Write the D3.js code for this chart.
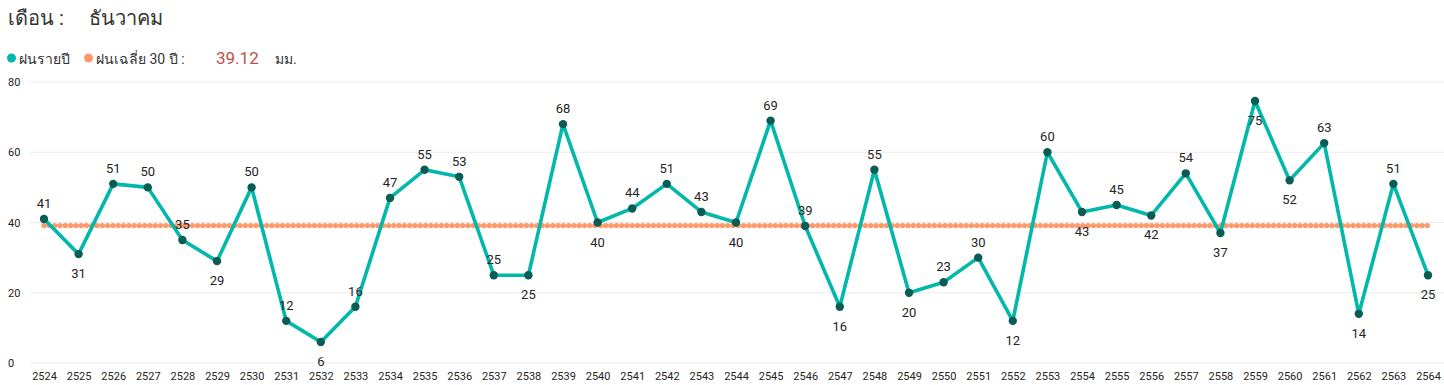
<!DOCTYPE html>
<html>
<head>
<meta charset="utf-8">
<script src="https://cdn.jsdelivr.net/npm/d3@7"></script>
<style>
  body { margin: 0; background: #fff; }
  svg { display: block; }
</style>
</head>
<body>
<script>
// data (labels are rounded)
const years = ["2524","2525","2526","2527","2528","2529","2530","2531","2532","2533",
               "2534","2535","2536","2537","2538","2539","2540","2541","2542","2543",
               "2544","2545","2546","2547","2548","2549","2550","2551","2552","2553",
               "2554","2555","2556","2557","2558","2559","2560","2561","2562","2563","2564"];
const rain = [41,31,51,50,35,29,50,12,6,16,
              47,55,53,25,25,68,40,44,51,43,
              40,69,39,16,55,20,23,30,12,60,
              43,45,42,54,37,74.6,52,62.6,14,51,25];
const avg30 = 39.12;
const yTicks = [0,20,40,60,80];
const monthName = "ธันวาคม";

function main(){
    const W = 1444, H = 385;
    const font = "Roboto, 'DejaVu Sans', sans-serif";

    const svg = d3.select("body").append("svg")
        .attr("width", W)
        .attr("height", H);

    // header
    svg.append("text").attr("x", 8).attr("y", 25)
        .attr("font-family", font).attr("font-size", 20).attr("fill", "#333")
        .text("เดือน :");
    svg.append("text").attr("x", 89).attr("y", 25)
        .attr("font-family", font).attr("font-size", 20).attr("fill", "#333")
        .text(monthName);

    // legend
    const lg = svg.append("g").attr("font-family", font).attr("fill", "#333");
    lg.append("circle").attr("cx", 11.5).attr("cy", 58).attr("r", 4.5).attr("fill", "#01B8AA");
    lg.append("text").attr("x", 19).attr("y", 64).attr("font-size", 14).text("ฝนรายปี");
    lg.append("circle").attr("cx", 88.5).attr("cy", 58).attr("r", 4.5).attr("fill", "#FD9A6B");
    lg.append("text").attr("x", 96).attr("y", 64).attr("font-size", 14).text("ฝนเฉลี่ย 30 ปี :");
    lg.append("text").attr("x", 216).attr("y", 64).attr("font-size", 17)
        .attr("fill", "#C0504D").text(avg30.toFixed(2));
    lg.append("text").attr("x", 275).attr("y", 64).attr("font-size", 14).text("มม.");

    const x = d3.scalePoint().domain(years).range([44, 1428]);
    const y = d3.scaleLinear().domain([0, 80]).range([363, 82]);

    // gridlines
    svg.append("g").selectAll("line").data(yTicks).join("line")
        .attr("x1", 30).attr("x2", W)
        .attr("y1", d => y(d)).attr("y2", d => y(d))
        .attr("stroke", "#ebebeb").attr("stroke-width", 1);

    // y axis labels
    svg.append("g").selectAll("text").data(yTicks).join("text")
        .attr("x", 8).attr("y", d => y(d) + 4)
        .attr("font-family", font).attr("font-size", 11).attr("fill", "#252423")
        .text(d => d);

    // x axis
    const xAxis = svg.append("g")
        .attr("transform", "translate(0,368)")
        .call(d3.axisBottom(x).tickSize(0).tickPadding(4));
    xAxis.select(".domain").remove();
    xAxis.selectAll("text")
        .attr("font-family", font).attr("font-size", 11).attr("fill", "#252423");

    // 30-year average, dotted
    svg.append("line")
        .attr("x1", x(years[0])).attr("x2", x(years[years.length - 1]) + 2)
        .attr("y1", y(avg30)).attr("y2", y(avg30))
        .attr("stroke", "#FD9A6B").attr("stroke-width", 5.4)
        .attr("stroke-linecap", "round").attr("stroke-dasharray", "0 5.3");

    // yearly rainfall line
    const pts = years.map((yr, i) => ({yr, v: rain[i], i}));
    svg.append("path").datum(pts)
        .attr("fill", "none").attr("stroke", "#01B8AA").attr("stroke-width", 3.6)
        .attr("stroke-linejoin", "round")
        .attr("d", d3.line().x(d => x(d.yr)).y(d => y(d.v)));

    svg.append("g").selectAll("circle").data(pts).join("circle")
        .attr("cx", d => x(d.yr)).attr("cy", d => y(d.v)).attr("r", 4.2)
        .attr("fill", "#0B5C54");

    // labels: below for local minima and for points near the top
    function below(d){
        const prev = d.i > 0 ? rain[d.i - 1] : Infinity;
        const next = d.i < rain.length - 1 ? rain[d.i + 1] : Infinity;
        return (d.v <= prev && d.v < next) || d.v > 72;
    }
    svg.append("g").selectAll("text").data(pts).join("text")
        .attr("x", d => x(d.yr))
        .attr("y", d => below(d) ? y(d.v) + 24 : y(d.v) - 11)
        .attr("text-anchor", "middle")
        .attr("font-family", font).attr("font-size", 13).attr("fill", "#252423")
        .text(d => Math.round(d.v));
}
main();
</script>
</body>
</html>
